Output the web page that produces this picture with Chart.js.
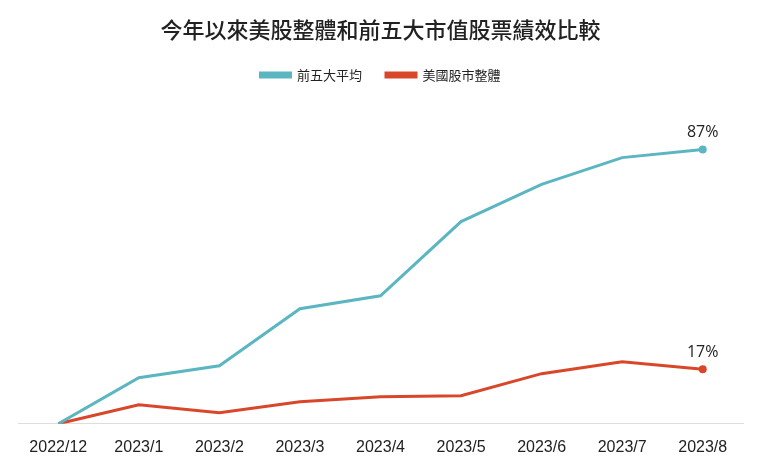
<!DOCTYPE html>
<html>
<head>
<meta charset="utf-8">
<script src="https://cdn.jsdelivr.net/npm/chart.js@4"></script>
<style>
  html, body { margin: 0; padding: 0; background: #fff; }
  #wrap { width: 760px; height: 466px; position: relative; }
</style>
</head>
<body>
<div id="wrap"><canvas id="chart"></canvas></div>
<script>
/* 今年以來美股整體和前五大市值股票績效比較 */

var MONTHS = ['2022/12', '2023/1', '2023/2', '2023/3', '2023/4', '2023/5', '2023/6', '2023/7', '2023/8'];
var TOP5_AVG = [0, 14.6, 18.4, 36.5, 40.6, 64.1, 75.9, 84.4, 87];
var US_MARKET = [0, 6.0, 3.5, 7.0, 8.6, 8.9, 15.9, 19.7, 17.3];
var END_LABELS = ['87%', '17%'];

var TEAL = '#5bb6c1';
var RED  = '#d9472b';
var CJK  = '"Noto Sans CJK TC", "Noto Sans", sans-serif';

function lastOnly(color) {
    return MONTHS.map(function(m, i) { return i === MONTHS.length - 1 ? color : 'rgba(0,0,0,0)'; });
}
function lastRadius(r) {
    return MONTHS.map(function(m, i) { return i === MONTHS.length - 1 ? r : 0; });
}

// extra room under the legend
var legendGapPlugin = {
    id: 'legendGap',
    beforeInit: function(chart) {
        var origFit = chart.legend.fit;
        chart.legend.fit = function() {
            origFit.bind(chart.legend)();
            this.height += 17;
        };
    }
};

// endpoint labels above the last dot of each line
var endLabelPlugin = {
    id: 'endLabels',
    afterDatasetsDraw: function(chart) {
        var ctx = chart.ctx;
        ctx.save();
        ctx.font = '16px "Open Sans", "Noto Sans", sans-serif';
        ctx.fillStyle = '#222';
        ctx.textAlign = 'center';
        ctx.textBaseline = 'bottom';
        chart.data.datasets.forEach(function(ds, di) {
            var pts = chart.getDatasetMeta(di).data;
            var p = pts[pts.length - 1];
            ctx.fillText(END_LABELS[di], p.x, p.y - 9);
        });
        ctx.restore();
    }
};

new Chart(document.getElementById('chart'), {
    type: 'line',
    data: {
        labels: MONTHS,
        datasets: [
            {
                label: '前五大平均',
                data: TOP5_AVG,
                borderColor: TEAL, backgroundColor: TEAL,
                borderWidth: 3, tension: 0,
                pointRadius: lastRadius(4),
                pointBackgroundColor: lastOnly(TEAL), pointBorderWidth: 0
            },
            {
                label: '美國股市整體',
                data: US_MARKET,
                borderColor: RED, backgroundColor: RED,
                borderWidth: 3, tension: 0,
                pointRadius: lastRadius(4),
                pointBackgroundColor: lastOnly(RED), pointBorderWidth: 0
            }
        ]
    },
    options: {
        responsive: true, maintainAspectRatio: false, animation: false,
        layout: { padding: { left: 18, right: 17, top: 0, bottom: -5 } },
        plugins: {
            title: {
                display: true,
                text: '今年以來美股整體和前五大市值股票績效比較',
                color: '#222',
                font: { family: CJK, size: 22, weight: '500' },
                padding: { top: 16, bottom: 2 }
            },
            legend: {
                labels: {
                    color: '#222',
                    font: { family: CJK, size: 13 },
                    boxWidth: 30, boxHeight: 4,
                    padding: 24
                }
            },
            tooltip: { enabled: false }
        },
        scales: {
            x: {
                offset: true,
                grid: { display: false, drawTicks: false },
                border: { display: true, color: '#dddddd', width: 1 },
                ticks: {
                    color: '#222', padding: 14,
                    font: { family: '"Liberation Sans", sans-serif', size: 16 }
                }
            },
            y: {
                display: false,
                min: 0, max: 100
            }
        }
    },
    plugins: [legendGapPlugin, endLabelPlugin]
});
</script>
</body>
</html>
